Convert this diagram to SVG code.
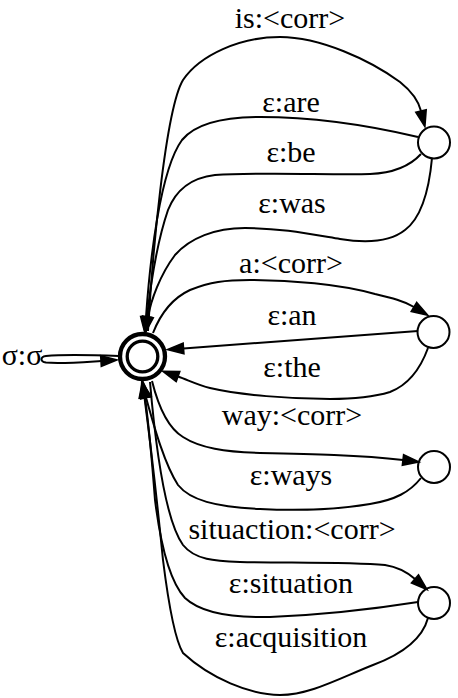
<svg xmlns="http://www.w3.org/2000/svg" width="458" height="698" viewBox="0 0 458 698">
<style>
.e{fill:none;stroke:#000;stroke-width:2;marker-end:url(#ah)}
.n{fill:none;stroke:#000;stroke-width:2}
text{font-family:"Liberation Serif","Times New Roman",serif;font-size:30px;fill:#000;text-anchor:middle}
</style>
<defs>
<marker id="ah" markerUnits="userSpaceOnUse" markerWidth="16" markerHeight="11" viewBox="0 -5 15 10" refX="0" refY="0" orient="auto" overflow="visible">
<path d="M0,-5 L15,0 L0,5 z" fill="#000" stroke="#000" stroke-width="1.5" stroke-linejoin="miter"/>
</marker>
</defs>
<rect width="458" height="698" fill="#fff"/>
<g id="edges">
<path class="e" d="M119,356 C95,355 60,354.5 46,356 C40,357 40,361.5 46,362.5 C60,364 85,362 101,361"/>
<path class="e" d="M148,331 C152,260 165,110 183,80 C200,55 240,37 280,37 C320,37 370,60 400,82 C410,90 418,99 421,111"/>
<path class="e" d="M418,137 C380,128 320,117 260,117 C220,117 195,124 182,140 C160,170 150,260 146,317"/>
<path class="e" d="M421,154 C410,166 395,173 370,174 C330,175 260,172 215,175 C190,178 176,190 168,210 C156,245 150,290 147,317"/>
<path class="e" d="M432,158 C430,180 425,215 405,230 C390,242 365,243 340,239 C310,234 280,228 245,228 C215,228 190,238 175,255 C160,275 151,300 148,317"/>
<path class="e" d="M153,333 C162,310 175,297 190,290 C210,282 225,280 250,280 C290,280 340,284 375,294 C392,298 404,301 414,307"/>
<path class="e" d="M418,331 L183.5,348.4"/>
<path class="e" d="M428,348 C420,370 408,385 390,392 C370,398 350,399 330,399 C290,399 240,395 210,388 C198,385 188,380 178,376.5"/>
<path class="e" d="M152,381 C158,405 168,428 183,437 C200,448 225,452 260,453 C310,454 360,455 403,460"/>
<path class="e" d="M421,478 C410,492 395,500 370,504 C340,509 300,511 260,509 C215,507 190,500 178,485 C165,465 155,430 146,397.5"/>
<path class="e" d="M150,382 C155,440 165,520 183,545 C195,560 215,561 240,562 C290,563 350,562 385,565 C398,567 407,572 415,579"/>
<path class="e" d="M418,602 C380,608 320,615 270,617 C230,618 200,612 185,598 C168,580 160,540 155,500 C152,460 148,420 145,397.5"/>
<path class="e" d="M428,618 C422,640 400,655 373,665 C340,678 310,695 280,695 C250,695 210,678 183,653 C175,640 168,600 163,560 C158,510 150,440 144.5,397.5"/>
</g>
<g id="n0">
<circle cx="142.5" cy="356.5" r="22.5" fill="#fff" stroke="#000" stroke-width="4.3"/>
<circle cx="142.5" cy="356.5" r="15.3" fill="none" stroke="#000" stroke-width="3.3"/>
</g>
<g id="n1"><circle class="n" cx="434" cy="142.5" r="16" fill="#fff"/></g>
<g id="n2"><circle class="n" cx="433.5" cy="332" r="16" fill="#fff"/></g>
<g id="n3"><circle class="n" cx="434" cy="467" r="16" fill="#fff"/></g>
<g id="n4"><circle class="n" cx="434" cy="603" r="16" fill="#fff"/></g>
<g id="labels">
<text x="22" y="365">σ:σ</text>
<text x="290" y="28">is:&lt;corr&gt;</text>
<text x="291" y="112">ε:are</text>
<text x="291" y="162">ε:be</text>
<text x="292" y="213">ε:was</text>
<text x="291" y="273">a:&lt;corr&gt;</text>
<text x="292" y="325">ε:an</text>
<text x="292" y="377">ε:the</text>
<text x="292" y="425">way:&lt;corr&gt;</text>
<text x="291" y="485">ε:ways</text>
<text x="292" y="539">situaction:&lt;corr&gt;</text>
<text x="291" y="593">ε:situation</text>
<text x="291" y="647">ε:acquisition</text>
</g>
</svg>
